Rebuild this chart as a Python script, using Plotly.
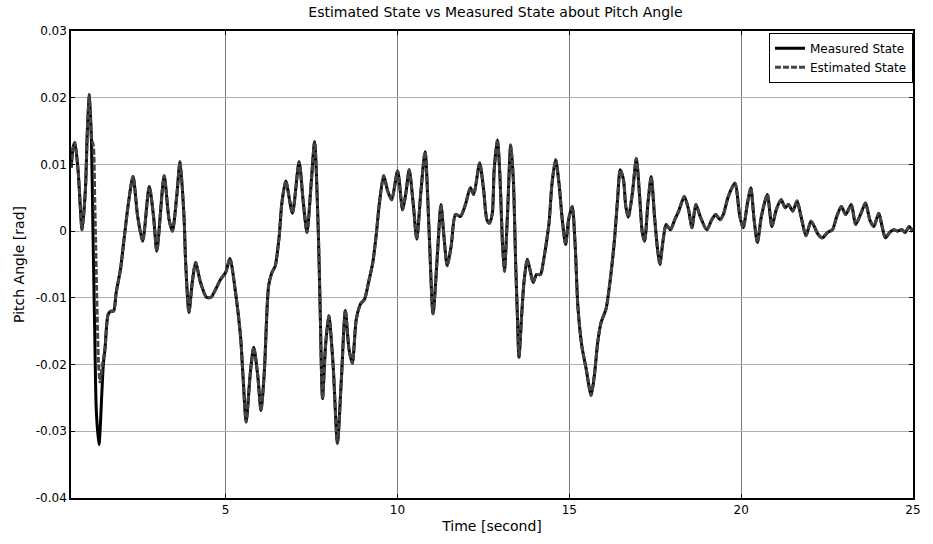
import plotly.graph_objects as go

# Measured pitch angle (time in seconds, angle in rad)
meas_time = [
    0.505, 0.56, 0.611, 0.708, 0.823, 0.919, 0.977, 1.035, 1.093, 1.141,
    1.189, 1.237, 1.314, 1.40, 1.44, 1.49, 1.58, 1.66, 1.738, 1.815,
    1.94, 2.055, 2.171, 2.305, 2.44, 2.585, 2.777, 2.902, 2.998, 3.21,
    3.354, 3.451, 3.576, 3.672, 3.788, 3.836, 3.932, 4.028, 4.125, 4.269,
    4.442, 4.577, 4.71, 4.855, 4.999, 5.124, 5.288, 5.432, 5.509, 5.596,
    5.721, 5.817, 5.933, 6.029, 6.125, 6.25, 6.347, 6.443, 6.559, 6.635,
    6.751, 6.943, 7.136, 7.261, 7.367, 7.482, 7.588, 7.694, 7.742, 7.819,
    7.906, 8.002, 8.127, 8.252, 8.368, 8.483, 8.589, 8.686, 8.801, 8.926,
    9.041, 9.157, 9.282, 9.378, 9.474, 9.599, 9.715, 9.83, 10.004, 10.148,
    10.244, 10.341, 10.456, 10.562, 10.677, 10.803, 10.918, 11.034, 11.159, 11.264,
    11.351, 11.447, 11.563, 11.688, 11.832, 11.977, 12.121, 12.217, 12.391, 12.506,
    12.602, 12.68, 12.76, 12.813, 12.909, 12.986, 13.053, 13.111, 13.198, 13.294,
    13.371, 13.438, 13.486, 13.535, 13.612, 13.679, 13.775, 13.852, 13.948, 14.045,
    14.16, 14.256, 14.333, 14.41, 14.497, 14.603, 14.699, 14.795, 14.892, 14.978,
    15.084, 15.171, 15.248, 15.363, 15.488, 15.633, 15.729, 15.825, 15.922, 16.066,
    16.181, 16.307, 16.403, 16.48, 16.576, 16.643, 16.72, 16.835, 16.95, 17.046,
    17.123, 17.191, 17.287, 17.383, 17.479, 17.556, 17.633, 17.72, 17.816, 17.941,
    18.066, 18.182, 18.346, 18.471, 18.567, 18.683, 18.808, 19.0, 19.144, 19.26,
    19.385, 19.481, 19.626, 19.818, 19.962, 20.059, 20.184, 20.28, 20.376, 20.473,
    20.588, 20.761, 20.895, 21.02, 21.164, 21.28, 21.376, 21.501, 21.626, 21.742,
    21.886, 22.03, 22.127, 22.242, 22.367, 22.512, 22.656, 22.781, 22.916, 23.041,
    23.205, 23.33, 23.474, 23.619, 23.744, 23.859, 24.003, 24.1, 24.196, 24.321,
    24.437, 24.552, 24.677, 24.773, 24.889, 24.995,
]
meas_angle = [
    0.0095, 0.0125, 0.0133, 0.009, 0.0002, 0.0062, 0.0152, 0.0205, 0.014, -0.0007,
    -0.0147, -0.027, -0.032, -0.024, -0.020, -0.0176, -0.0125, -0.012, -0.012, -0.0092,
    -0.0057, -0.0007, 0.0042, 0.0082, 0.0022, -0.0015, 0.0067, 0.0022, -0.003, 0.0083,
    0.0017, 0.0, 0.0052, 0.0104, 0.0022, -0.0047, -0.0122, -0.0077, -0.0047, -0.0077,
    -0.0099, -0.0099, -0.0087, -0.0072, -0.0062, -0.0041, -0.0092, -0.0157, -0.0221, -0.0286,
    -0.0211, -0.0174, -0.0216, -0.0269, -0.0211, -0.0082, -0.0062, -0.0052, -0.0007, 0.0042,
    0.0075, 0.0027, 0.0104, 0.0042, -0.0002, 0.0067, 0.0134, 0.0002, -0.0097, -0.0251,
    -0.0172, -0.0127, -0.0201, -0.0318, -0.0221, -0.0119, -0.0177, -0.0198, -0.0132, -0.0109,
    -0.0102, -0.0077, -0.0047, -0.0007, 0.0042, 0.0083, 0.006, 0.0047, 0.009, 0.0032,
    0.0057, 0.0092, 0.0042, -0.0012, 0.0057, 0.0119, 0.0002, -0.0124, -0.0037, 0.004,
    -0.0007, -0.0052, -0.0022, 0.0025, 0.0022, 0.004, 0.0065, 0.0055, 0.0102, 0.0062,
    0.0017, 0.0012, 0.0027, 0.0092, 0.0137, 0.0077, -0.0017, -0.006, 0.0022, 0.0129,
    0.0077, -0.0047, -0.0122, -0.0189, -0.0127, -0.0077, -0.0042, -0.0057, -0.0077, -0.0065,
    -0.0065, -0.0042, -0.0017, 0.0012, 0.0072, 0.0107, 0.0072, 0.0017, -0.002, 0.0017,
    0.0037, -0.0022, -0.0112, -0.0172, -0.0206, -0.0246, -0.0216, -0.0167, -0.0137, -0.0117,
    -0.0077, -0.0017, 0.0047, 0.0092, 0.0077, 0.0037, 0.0021, 0.0057, 0.0109, 0.0052,
    -0.0002, -0.0015, 0.0042, 0.0082, 0.0022, -0.0022, -0.005, -0.0017, 0.001, 0.0002,
    0.0017, 0.003, 0.0052, 0.0032, 0.0005, 0.004, 0.0022, 0.0002, 0.0017, 0.0025,
    0.0017, 0.0025, 0.0052, 0.0072, 0.0022, 0.0005, 0.0042, 0.0065, 0.0017, -0.0017,
    0.0022, 0.0055, 0.0007, 0.0032, 0.0047, 0.0035, 0.004, 0.003, 0.0045, 0.0022,
    -0.0007, 0.0015, 0.0007, -0.0005, -0.001, -0.0002, 0.0002, 0.0022, 0.0037, 0.0025,
    0.004, 0.001, 0.0025, 0.0042, 0.0017, 0.0007, 0.0027, 0.0007, -0.001, -0.0002,
    0.0002, 0.0, 0.0002, -0.0002, 0.0007, -0.0001,
]

# Estimator transient where it departs from the measurement
est_transient_time = [1.093, 1.15, 1.19, 1.25, 1.30, 1.345, 1.41]
est_transient_angle = [0.014, 0.0128, 0.005, -0.0097, -0.0197, -0.0226, -0.0201]

before = [(t, v) for t, v in zip(meas_time, meas_angle) if t < 1.09]
after = [(t, v) for t, v in zip(meas_time, meas_angle) if t >= 1.49]
est_time = [t for t, _ in before] + est_transient_time + [t for t, _ in after]
est_angle = [v for _, v in before] + est_transient_angle + [v for _, v in after]

x_ticks = [5, 10, 15, 20, 25]
y_ticks = [0.03, 0.02, 0.01, 0, -0.01, -0.02, -0.03, -0.04]
y_tick_text = ["0.03", "0.02", "0.01", "0", "-0.01", "-0.02", "-0.03", "-0.04"]

font_family = "DejaVu Sans, Verdana, sans-serif"

fig = go.Figure()
fig.add_trace(go.Scatter(
    x=meas_time, y=meas_angle, mode="lines", name="Measured State",
    line=dict(color="#000000", width=3, shape="spline", smoothing=0.7),
))
fig.add_trace(go.Scatter(
    x=est_time, y=est_angle, mode="lines", name="Estimated State",
    line=dict(color="#444444", width=3, shape="spline", smoothing=0.7, dash="6px,2px"),
))

fig.update_layout(
    width=933, height=544,
    margin=dict(l=71, r=13, t=31, b=44),
    paper_bgcolor="white", plot_bgcolor="white",
    font=dict(family=font_family, size=12, color="#000000"),
    title=dict(text="Estimated State vs Measured State about Pitch Angle",
               x=0.531, xanchor="center", y=0.977, yanchor="middle",
               font=dict(size=14, family=font_family)),
    showlegend=True,
    legend=dict(x=1.0, xanchor="right", y=0.996, yanchor="top",
                bgcolor="white", bordercolor="#000000", borderwidth=1,
                font=dict(size=12, family=font_family),
                tracegroupgap=0, itemwidth=30),
)
fig.update_xaxes(
    range=[0.5, 25], tickvals=x_ticks, ticktext=[str(v) for v in x_ticks],
    showgrid=True, gridcolor="#7a7a7a", gridwidth=1,
    showline=True, linecolor="#000000", linewidth=1.5, mirror="ticks",
    ticks="inside", ticklen=4, tickcolor="#000000", zeroline=False,
    title=dict(text="Time [second]", standoff=5, font=dict(size=14)),
)
fig.update_yaxes(
    range=[-0.04, 0.03], tickvals=y_ticks, ticktext=y_tick_text,
    showgrid=True, gridcolor="#b0b0b0", gridwidth=1,
    showline=True, linecolor="#000000", linewidth=1.5, mirror="ticks",
    ticks="inside", ticklen=4, tickcolor="#000000", zeroline=False,
    title=dict(text="Pitch Angle [rad]", standoff=8, font=dict(size=14)),
)

fig.write_html("out.html")
